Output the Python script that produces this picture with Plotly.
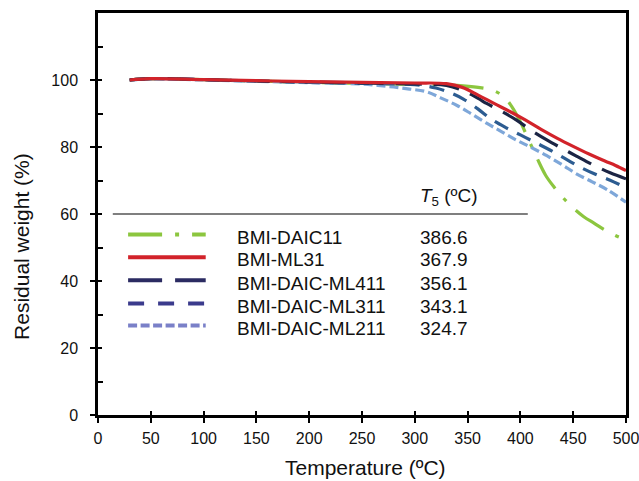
import plotly.graph_objects as go

# TGA curves
t_daic11 = [30, 50, 100, 150, 200, 250, 300, 340, 360, 375, 385, 392, 400, 408, 416, 424, 432, 440, 450, 460, 470, 480, 490, 500]
w_daic11 = [100, 100.4, 100.1, 99.7, 99.3, 99.0, 98.7, 98.4, 97.8, 96.8, 94.8, 92, 87.5, 82, 76.5, 71.5, 68, 65, 61.8, 59.2, 57.2, 55.2, 53.6, 52.3]

t_ml31 = [30, 50, 100, 150, 200, 250, 300, 330, 345, 360, 375, 390, 405, 420, 435, 450, 465, 480, 490, 500]
w_ml31 = [100, 100.4, 100.1, 99.8, 99.5, 99.3, 99.1, 98.9, 97.8, 95.5, 93.0, 90.6, 88.0, 85.2, 82.6, 80.2, 77.9, 75.8, 74.5, 73.0]

t_ml411 = [30, 50, 100, 150, 200, 250, 300, 330, 346, 360, 368, 380, 396, 410, 425, 440, 453, 470, 485, 500]
w_ml411 = [100, 100.4, 100.1, 99.7, 99.4, 99.1, 98.8, 98.4, 96.8, 94.5, 93.0, 91.0, 88.1, 85.0, 82.1, 79.5, 77.3, 74.5, 72.3, 70.5]

t_ml311 = [30, 50, 100, 150, 200, 250, 300, 320, 335, 346, 360, 371, 385, 400, 415, 428, 442, 456, 470, 485, 500]
w_ml311 = [100, 100.4, 100.1, 99.7, 99.3, 99.0, 98.6, 97.6, 96.0, 94.3, 91.3, 88.6, 86.0, 83.6, 81.2, 79.1, 76.6, 74.1, 72.0, 70.1, 67.8]

t_ml211 = [30, 50, 100, 150, 200, 250, 265, 280, 295, 311, 325, 340, 354, 368, 382, 396, 410, 425, 440, 453, 468, 482, 500]
w_ml211 = [100, 100.3, 100.0, 99.6, 99.2, 98.8, 98.4, 97.9, 97.3, 96.5, 94.6, 92.4, 89.8, 87.1, 84.6, 82.1, 79.9, 77.4, 74.6, 72.0, 69.6, 67.3, 63.5]

names = ["BMI-DAIC11", "BMI-ML31", "BMI-DAIC-ML411", "BMI-DAIC-ML311", "BMI-DAIC-ML211"]
t5 = ["386.6", "367.9", "356.1", "343.1", "324.7"]

x_ticks = [0, 50, 100, 150, 200, 250, 300, 350, 400, 450, 500]
y_ticks = [0, 20, 40, 60, 80, 100]
y_minor = [10, 30, 50, 70, 90, 110]

series = [(t_daic11, w_daic11), (t_ml31, w_ml31), (t_ml411, w_ml411), (t_ml311, w_ml311), (t_ml211, w_ml211)]
line_col = ["#8cc63f", "#d2232a", "#1b2444", "#2c5c91", "#7ea7d9"]
key_col = ["#8cc63f", "#d2232a", "#2b2b62", "#3b3b8c", "#7a80c8"]
dashes = ["34px,13px,4px,13px", "solid", "26px,12px", "15px,10px", "9px,4px"]
key_dashes = ["34px,13px,4px,13px", "solid", "34px,13px", "16px,14px", "9px,3.5px"]

FONT = "Liberation Sans, Arial, sans-serif"

fig = go.Figure()
# draw light ones first so the darker curves sit on top, like the original
for i in [0, 4, 3, 2, 1]:
    t, w = series[i]
    fig.add_trace(go.Scatter(x=t, y=w, mode="lines", name=names[i],
                             line=dict(color=line_col[i], width=3.2, dash=dashes[i]),
                             line_shape="spline", showlegend=False))

# table-style key
row_y = [53.1, 46.3, 39.4, 32.5, 25.9]
for i in range(5):
    fig.add_shape(type="line", x0=28.5, x1=102, y0=row_y[i] + 0.8, y1=row_y[i] + 0.8,
                  xref="x", yref="y", line=dict(color=key_col[i], width=4, dash=key_dashes[i]))
    fig.add_annotation(x=130, y=row_y[i], text=names[i], showarrow=False, xanchor="left",
                       font=dict(size=19, color="#111"))
    fig.add_annotation(x=303, y=row_y[i], text=t5[i], showarrow=False, xanchor="left",
                       font=dict(size=19, color="#111"))
fig.add_shape(type="line", x0=14, x1=407, y0=60, y1=60, xref="x", yref="y",
              line=dict(color="black", width=1.2))
fig.add_annotation(x=303, y=65.2, text="<i>T</i><sub>5</sub> (ºC)", showarrow=False, xanchor="left",
                   font=dict(size=19, color="#111"))

# axis titles placed by hand, as in the original
fig.add_annotation(x=(365 - 98) / 528, y=-0.13, xref="paper", yref="paper", yanchor="middle",
                   text="Temperature (ºC)", showarrow=False, font=dict(size=21, color="#111"))
fig.add_annotation(x=-(98 - 22) / 528, y=0.418, xref="paper", yref="paper", xanchor="center",
                   text="Residual weight (%)", textangle=-90, showarrow=False,
                   font=dict(size=21, color="#111"))

axis_common = dict(showgrid=False, zeroline=False, showline=True, linecolor="black", linewidth=2.5,
                   mirror=True, ticks="outside", ticklen=5, tickwidth=2, tickcolor="black",
                   automargin=False, ticklabeloverflow="allow", tickfont=dict(size=16, color="#111"))
fig.update_xaxes(range=[0, 500], tickvals=x_ticks, ticklabelstandoff=2, **axis_common)
fig.update_yaxes(range=[0, 120], tickvals=y_ticks, ticklabelstandoff=9, **axis_common,
                 minor=dict(tickvals=y_minor, ticks="inside", ticklen=5, tickwidth=2, tickcolor="black"))

# second pair of axes only to make the major ticks cross the axis line
fig.update_layout(
    xaxis2=dict(overlaying="x", anchor="y", side="bottom", range=[0, 500], tickvals=x_ticks,
                ticks="inside", ticklen=4, tickwidth=2, tickcolor="black", showticklabels=False,
                showline=False, showgrid=False, zeroline=False),
    yaxis2=dict(overlaying="y", anchor="x", side="left", range=[0, 120], tickvals=y_ticks,
                ticks="inside", ticklen=4, tickwidth=2, tickcolor="black", showticklabels=False,
                showline=False, showgrid=False, zeroline=False),
)
fig.add_trace(go.Scatter(x=[None], y=[None], xaxis="x2", yaxis="y2", showlegend=False, hoverinfo="skip"))

fig.update_layout(width=639, height=481, margin=dict(l=98, r=13, t=13, b=66),
                  plot_bgcolor="white", paper_bgcolor="white",
                  font=dict(family=FONT, color="#111"), showlegend=False)

# drop the page's default body margin so the figure sits at the window's corner
fig.write_html("out.html", config={"displayModeBar": False},
               post_script="document.body.style.margin='0';document.body.style.overflow='hidden';")
